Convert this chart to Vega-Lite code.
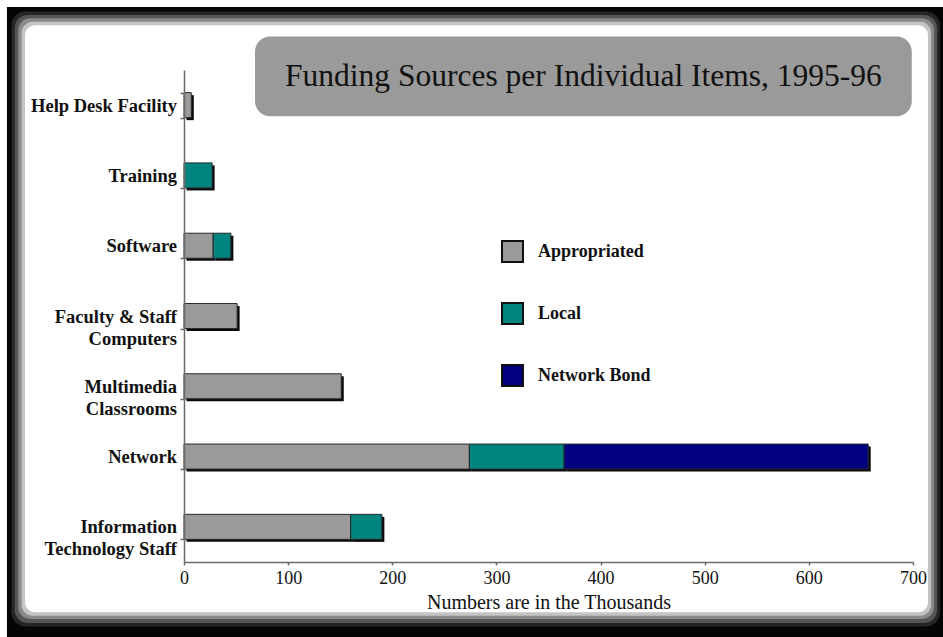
{
  "$schema": "https://vega.github.io/schema/vega-lite/v6.json",
  "width": 729,
  "height": 492,
  "autosize": {"type": "none"},
  "padding": {"left": 184, "top": 70, "right": 30, "bottom": 75},
  "background": "#ffffff",
  "config": {
    "view": {"stroke": null},
    "font": "Liberation Serif",
    "legend": {
      "orient": "none",
      "legendX": 317,
      "legendY": 170,
      "padding": 0,
      "symbolType": "square",
      "symbolSize": 440,
      "symbolStrokeColor": "#111111",
      "symbolStrokeWidth": 2,
      "labelFont": "Liberation Serif",
      "labelFontSize": 18,
      "labelFontWeight": "bold",
      "labelColor": "#111111",
      "labelOffset": 14,
      "rowPadding": 33
    }
  },
  "layer": [
    {
      "data": {"values": [{}]},
      "layer": [
        {"mark": {"type": "rect", "fill": "#050505"}, "encoding": {"x": {"datum": -170, "type": "quantitative", "scale": {"domain": [0, 700], "nice": false}, "axis": null}, "x2": {"datum": 740}, "y": {"datum": 112.8, "type": "quantitative", "scale": {"domain": [0, 100]}, "axis": null}, "y2": {"datum": -20}}},
        {"mark": {"type": "rect", "fill": "#262626", "cornerRadius": 14}, "encoding": {"x": {"datum": -165.7, "type": "quantitative", "scale": {"domain": [0, 700], "nice": false}, "axis": null}, "x2": {"datum": 725.9}, "y": {"datum": 111.9, "type": "quantitative", "scale": {"domain": [0, 100]}, "axis": null}, "y2": {"datum": -13.1}}},
        {"mark": {"type": "rect", "fill": "#555555", "cornerRadius": 13}, "encoding": {"x": {"datum": -162.5, "type": "quantitative", "scale": {"domain": [0, 700], "nice": false}, "axis": null}, "x2": {"datum": 723.1}, "y": {"datum": 111.2, "type": "quantitative", "scale": {"domain": [0, 100]}, "axis": null}, "y2": {"datum": -12.4}}},
        {"mark": {"type": "rect", "fill": "#8a8a8a", "cornerRadius": 12}, "encoding": {"x": {"datum": -159.2, "type": "quantitative", "scale": {"domain": [0, 700], "nice": false}, "axis": null}, "x2": {"datum": 720.2}, "y": {"datum": 110.5, "type": "quantitative", "scale": {"domain": [0, 100]}, "axis": null}, "y2": {"datum": -11.6}}},
        {"mark": {"type": "rect", "fill": "#c4c4c4", "cornerRadius": 11}, "encoding": {"x": {"datum": -155.9, "type": "quantitative", "scale": {"domain": [0, 700], "nice": false}, "axis": null}, "x2": {"datum": 717.3}, "y": {"datum": 109.8, "type": "quantitative", "scale": {"domain": [0, 100]}, "axis": null}, "y2": {"datum": -10.9}}},
        {"mark": {"type": "rect", "fill": "#ffffff", "cornerRadius": 10}, "encoding": {"x": {"datum": -152.7, "type": "quantitative", "scale": {"domain": [0, 700], "nice": false}, "axis": null}, "x2": {"datum": 714.4}, "y": {"datum": 109.1, "type": "quantitative", "scale": {"domain": [0, 100]}, "axis": null}, "y2": {"datum": -10.2}}},
        {"mark": {"type": "rect", "fill": "#9a9a9a", "cornerRadius": 15}, "encoding": {"x": {"datum": 68.2, "type": "quantitative", "scale": {"domain": [0, 700], "nice": false}, "axis": null}, "x2": {"datum": 698.8}, "y": {"datum": 106.8, "type": "quantitative", "scale": {"domain": [0, 100]}, "axis": null}, "y2": {"datum": 90.6}}},
        {"mark": {"type": "text", "text": "Funding Sources per Individual Items, 1995-96", "font": "Liberation Serif", "fontSize": 31.5, "color": "#111111", "align": "center", "baseline": "middle"}, "encoding": {"x": {"datum": 383.5, "type": "quantitative", "scale": {"domain": [0, 700], "nice": false}, "axis": null}, "y": {"datum": 98.5, "type": "quantitative", "scale": {"domain": [0, 100]}, "axis": null}}}
      ]
    },
    {
      "data": {
        "values": [
          {"category": "Help Desk Facility", "source": "Appropriated", "ord": 1, "value": 7},
          {"category": "Training", "source": "Local", "ord": 2, "value": 27},
          {"category": "Software", "source": "Appropriated", "ord": 1, "value": 28},
          {"category": "Software", "source": "Local", "ord": 2, "value": 17},
          {"category": "Faculty & Staff Computers", "source": "Appropriated", "ord": 1, "value": 51},
          {"category": "Multimedia Classrooms", "source": "Appropriated", "ord": 1, "value": 151},
          {"category": "Network", "source": "Appropriated", "ord": 1, "value": 274},
          {"category": "Network", "source": "Local", "ord": 2, "value": 91},
          {"category": "Network", "source": "Network Bond", "ord": 3, "value": 292},
          {"category": "Information Technology Staff", "source": "Appropriated", "ord": 1, "value": 160},
          {"category": "Information Technology Staff", "source": "Local", "ord": 2, "value": 30}
        ]
      },
      "encoding": {
        "y": {
          "field": "category",
          "type": "nominal",
          "sort": ["Help Desk Facility", "Training", "Software", "Faculty & Staff Computers", "Multimedia Classrooms", "Network", "Information Technology Staff"],
          "scale": {"paddingInner": 0.644, "paddingOuter": 0.322},
          "axis": {
            "title": null,
            "zindex": 1,
            "tickBand": "extent",
            "domainColor": "#6a6a6a",
            "domainWidth": 1.5,
            "tickColor": "#6a6a6a",
            "tickSize": 4,
            "tickWidth": 1.5,
            "labelFont": "Liberation Serif",
            "labelFontSize": 18.5,
            "labelFontWeight": "bold",
            "labelColor": "#111111",
            "labelPadding": 3.5,
            "labelLineHeight": 22,
            "labelLimit": 0,
            "labelExpr": "datum.label == 'Faculty & Staff Computers' ? ['Faculty & Staff', 'Computers'] : datum.label == 'Multimedia Classrooms' ? ['Multimedia', 'Classrooms'] : datum.label == 'Information Technology Staff' ? ['Information', 'Technology Staff'] : datum.label"
          }
        },
        "x": {
          "field": "value",
          "type": "quantitative",
          "stack": "zero",
          "scale": {"domain": [0, 700], "nice": false},
          "title": "Numbers are in the Thousands",
          "axis": {
            "zindex": 1,
            "values": [0, 100, 200, 300, 400, 500, 600, 700],
            "grid": false,
            "labelFlush": false,
            "domainColor": "#6a6a6a",
            "domainWidth": 1.5,
            "tickColor": "#6a6a6a",
            "tickSize": 3,
            "tickWidth": 1.5,
            "labelFont": "Liberation Serif",
            "labelFontSize": 18,
            "labelColor": "#111111",
            "labelPadding": 4,
            "titleFont": "Liberation Serif",
            "titleFontSize": 20,
            "titleFontWeight": "normal",
            "titleColor": "#111111",
            "titlePadding": 5
          }
        }
      },
      "layer": [
        {
          "mark": {"type": "bar", "color": "#0a0a0a", "xOffset": 2.5, "yOffset": 2.5}
        },
        {
          "mark": {"type": "bar", "stroke": "#2a2a2a", "strokeWidth": 1},
          "encoding": {
            "color": {
              "field": "source",
              "type": "nominal",
              "scale": {"domain": ["Appropriated", "Local", "Network Bond"], "range": ["#9a9a9a", "#008480", "#000080"]},
              "legend": {"title": null}
            },
            "order": {"field": "ord", "type": "quantitative"}
          }
        }
      ]
    }
  ],
  "resolve": {"scale": {"y": "independent", "x": "independent"}}
}
